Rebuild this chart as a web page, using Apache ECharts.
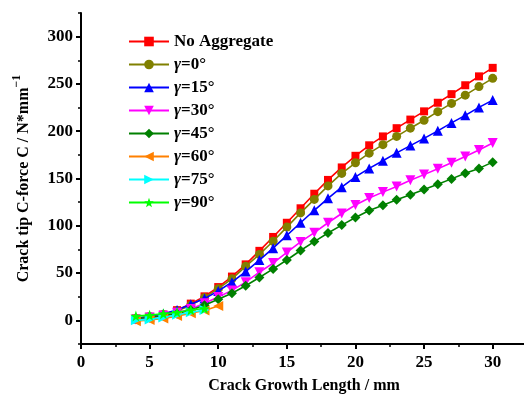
<!DOCTYPE html>
<html>
<head>
<meta charset="utf-8">
<script src="https://cdn.jsdelivr.net/npm/echarts@6/dist/echarts.min.js"></script>
<style>html,body{margin:0;padding:0;background:#fff;overflow:hidden}#c{width:530px;height:399px}</style>
</head>
<body>
<div id="c"></div>
<script>
var seriesNames = ['No Aggregate', 'γ=0°', 'γ=15°', 'γ=30°', 'γ=45°', 'γ=60°', 'γ=75°', 'γ=90°'];
var xMain = [4,5,6,7,8,9,10,11,12,13,14,15,16,17,18,19,20,21,22,23,24,25,26,27,28,29,30];
var xG60 = [4,5,6,7,8,9,10];
var xShort = [4,5,6,7,8,9];
var noAggregate = [2.1,3.8,6.2,10.8,17.7,25.4,35.2,46.3,59.2,73.5,88.2,103.2,118.5,133.9,148.5,161.7,174.0,185.1,194.5,203.2,212.3,221.0,230.1,239.2,248.6,258.0,267.0];
var g0  = [2,4,6,10,16,24,33.5,43.9,57.1,69.7,83.6,98.6,113.6,127.9,142.2,155.4,166.6,176.8,185.8,194.5,203.2,211.6,220.7,229.4,238.1,247.2,255.9];
var g15 = [2,4,7,11,17.1,23.0,31.0,40.4,51.6,63.8,76.3,89.9,103.2,116.4,129.0,140.8,151.7,160.7,168.7,177.1,184.8,192.4,200.4,208.8,216.8,225.2,232.9];
var g30 = [1,3,5,8,12,18,24.7,31.7,40.4,50.9,60.6,71.8,82.9,92.7,103.2,113.0,122.0,129.3,135.6,141.5,148.1,154.1,160.4,166.6,173.3,180.2,187.6];
var g45 = [2,3,5,7,11,16,22.3,28.6,36.6,45.3,54.4,63.8,73.9,83.3,92.4,100.7,108.8,116.1,121.7,127.6,132.8,138.4,144.0,149.6,155.5,160.7,167.3];
var g60 = [-1,0.5,2,4.5,7.5,10.5,15.3];
var g75 = [0,1,3,6,8.5,11];
var g90 = [4.5,5.5,7,8.5,11,12.5];
var xTicks = [0,5,10,15,20,25,30];
var yTicks = [0,50,100,150,200,250,300];
var yMinorTicks = [-25,25,75,125,175,225,275,325];

var colors = ['#ff0000','#808000','#0000ff','#ff00ff','#008000','#ff8000','#00ffff','#00ff00'];
var star = 'path://M0,-10 L2.35,-3.24 L9.51,-3.09 L3.8,1.24 L5.88,8.09 L0,4 L-5.88,8.09 L-3.8,1.24 L-9.51,-3.09 L-2.35,-3.24 Z';
var symbols = ['rect','circle','triangle','triangle','diamond','triangle','triangle',star];
var rotates = [0,0,0,180,0,90,-90,0];
var sizes = [8,9,10,10,10,10,10,11];
var xs = [xMain,xMain,xMain,xMain,xMain,xG60,xShort,xShort];
var vals = [noAggregate,g0,g15,g30,g45,g60,g75,g90];

function pairs(x, y){ var r=[]; for(var i=0;i<y.length;i++) r.push([x[i], y[i]]); return r; }

var FONT = '"Liberation Serif","Times New Roman",serif';
var series = seriesNames.map(function(n, i){
  return {
    name: n, type: 'line', data: pairs(xs[i], vals[i]),
    symbol: symbols[i], symbolRotate: rotates[i], symbolSize: sizes[i],
    lineStyle: {color: colors[i], width: 1.6},
    itemStyle: {color: colors[i]},
    emphasis: {disabled: true}, animation: false, z: 2 + i
  };
});

var chart = echarts.init(document.getElementById('c'), null, {renderer: 'canvas'});
chart.setOption({
  animation: false,
  backgroundColor: '#fff',
  grid: {left: 81, top: 13, bottom: 50, right: 0, containLabel: false},
  legend: {
    orient: 'vertical', left: 128, top: 33, padding: 0,
    itemWidth: 40, itemHeight: 12, itemGap: 6,
    data: seriesNames,
    formatter: function(n){ return n.indexOf('γ') === 0 ? '{i|γ}' + n.slice(1) : n; },
    textStyle: {fontFamily: FONT, fontWeight: 'bold', fontSize: 17, color: '#000', lineHeight: 16,
      rich: {i: {fontFamily: FONT, fontWeight: 'bold', fontStyle: 'italic', fontSize: 17, color: '#000'}}}
  },
  xAxis: {
    type: 'value', min: 0, max: 32.5, interval: 5,
    name: 'Crack Growth Length / mm', nameLocation: 'middle', nameGap: 34,
    nameTextStyle: {fontFamily: FONT, fontWeight: 'bold', fontSize: 16, color: '#000'},
    axisLine: {onZero: false, lineStyle: {color: '#000', width: 2}},
    axisTick: {inside: false, length: 5, lineStyle: {color: '#000', width: 2}},
    minorTick: {show: true, splitNumber: 2, length: 3, lineStyle: {color: '#000', width: 1.5}},
    splitLine: {show: false},
    axisLabel: {margin: 10, fontFamily: FONT, fontWeight: 'bold', fontSize: 17, color: '#000',
      formatter: function(v){ return xTicks.indexOf(v) >= 0 ? String(v) : ''; }}
  },
  yAxis: [{
    type: 'value', min: -25, max: 325, interval: 25,
    name: 'Crack tip C-force C / N*mm{s|−1}', nameLocation: 'middle', nameGap: 44,
    nameTextStyle: {fontFamily: FONT, fontWeight: 'bold', fontSize: 16, color: '#000',
      rich: {s: {fontFamily: FONT, fontWeight: 'bold', fontSize: 12, color: '#000', padding: [0,0,14,0]}}},
    axisLine: {onZero: false, lineStyle: {color: '#000', width: 2}},
    axisTick: {inside: false, length: 5, customValues: yTicks, lineStyle: {color: '#000', width: 2}},
    splitLine: {show: false},
    axisLabel: {margin: 8, customValues: yTicks, fontFamily: FONT, fontWeight: 'bold', fontSize: 17, color: '#000'}
  }, {
    type: 'value', min: -25, max: 325, interval: 25, position: 'left',
    axisLine: {show: false},
    axisTick: {inside: false, length: 3, customValues: yMinorTicks, lineStyle: {color: '#000', width: 1.5}},
    splitLine: {show: false},
    axisLabel: {show: false}
  }],
  series: series
});
</script>
</body>
</html>
